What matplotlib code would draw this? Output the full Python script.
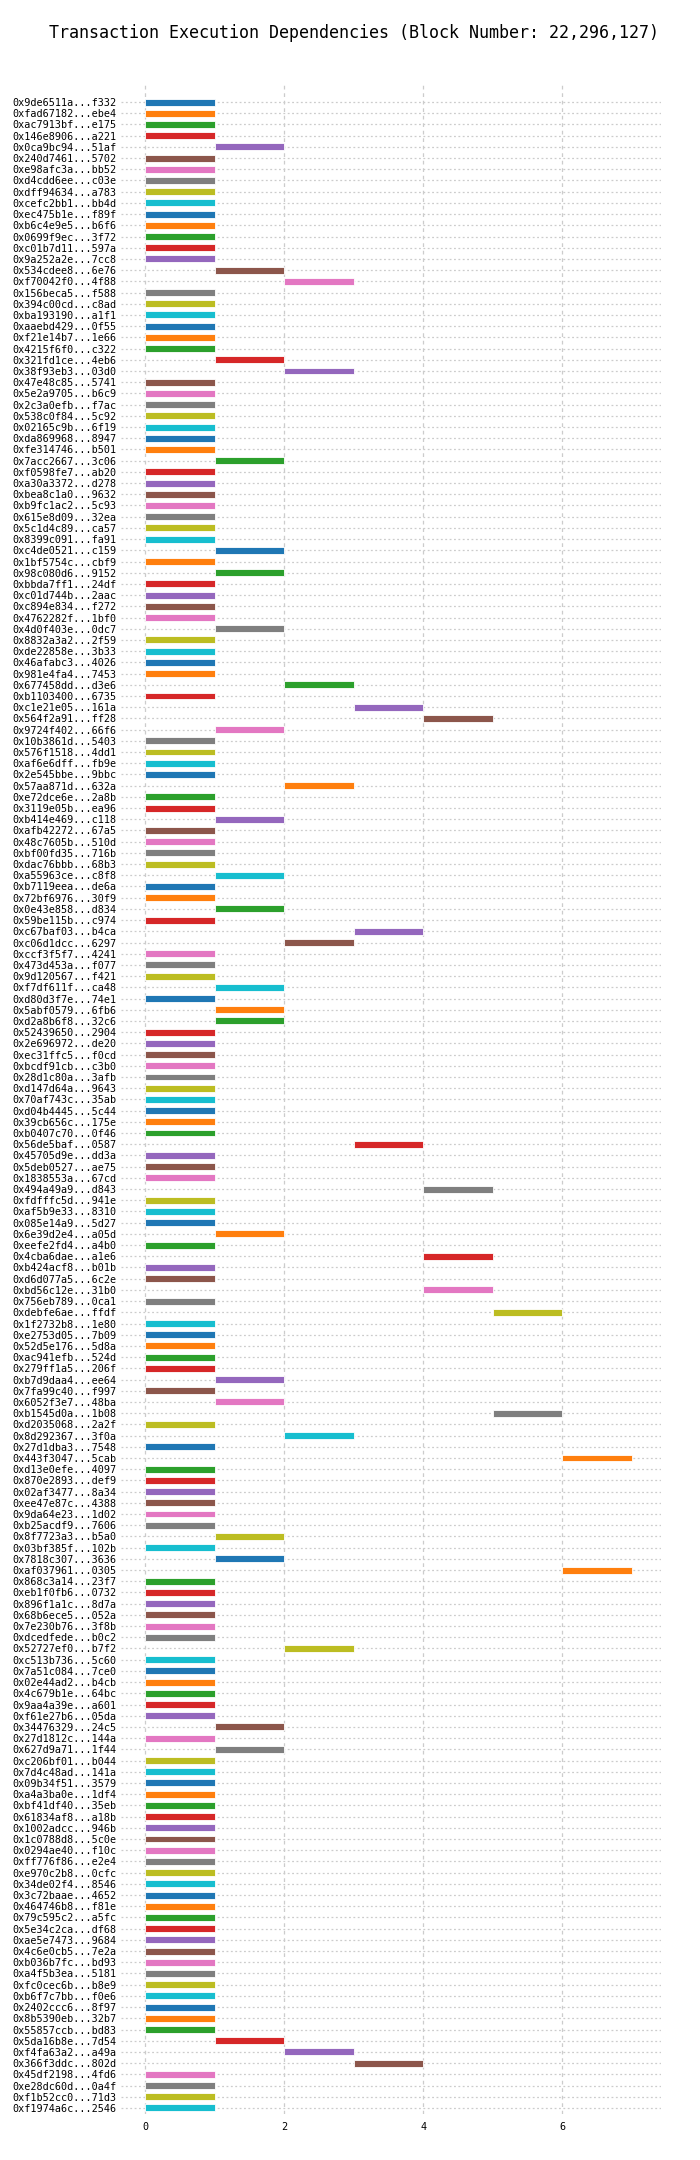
import matplotlib
matplotlib.use("Agg")
import matplotlib.pyplot as plt

tx_labels = [
    "0x9de6511a...f332", "0xfad67182...ebe4", "0xac7913bf...e175", "0x146e8906...a221", "0x0ca9bc94...51af",
    "0x240d7461...5702", "0xe98afc3a...bb52", "0xd4cdd6ee...c03e", "0xdff94634...a783", "0xcefc2bb1...bb4d",
    "0xec475b1e...f89f", "0xb6c4e9e5...b6f6", "0x0699f9ec...3f72", "0xc01b7d11...597a", "0x9a252a2e...7cc8",
    "0x534cdee8...6e76", "0xf70042f0...4f88", "0x156beca5...f588", "0x394c00cd...c8ad", "0xba193190...a1f1",
    "0xaaebd429...0f55", "0xf21e14b7...1e66", "0x4215f6f0...c322", "0x321fd1ce...4eb6", "0x38f93eb3...03d0",
    "0x47e48c85...5741", "0x5e2a9705...b6c9", "0x2c3a0efb...f7ac", "0x538c0f84...5c92", "0x02165c9b...6f19",
    "0xda869968...8947", "0xfe314746...b501", "0x7acc2667...3c06", "0xf0598fe7...ab20", "0xa30a3372...d278",
    "0xbea8c1a0...9632", "0xb9fc1ac2...5c93", "0x615e8d09...32ea", "0x5c1d4c89...ca57", "0x8399c091...fa91",
    "0xc4de0521...c159", "0x1bf5754c...cbf9", "0x98c080d6...9152", "0xbbda7ff1...24df", "0xc01d744b...2aac",
    "0xc894e834...f272", "0x4762282f...1bf0", "0x4d0f403e...0dc7", "0x8832a3a2...2f59", "0xde22858e...3b33",
    "0x46afabc3...4026", "0x981e4fa4...7453", "0x677458dd...d3e6", "0xb1103400...6735", "0xc1e21e05...161a",
    "0x564f2a91...ff28", "0x9724f402...66f6", "0x10b3861d...5403", "0x576f1518...4dd1", "0xaf6e6dff...fb9e",
    "0x2e545bbe...9bbc", "0x57aa871d...632a", "0xe72dce6e...2a8b", "0x3119e05b...ea96", "0xb414e469...c118",
    "0xafb42272...67a5", "0x48c7605b...510d", "0xbf00fd35...716b", "0xdac76bbb...68b3", "0xa55963ce...c8f8",
    "0xb7119eea...de6a", "0x72bf6976...30f9", "0x0e43e858...d834", "0x59be115b...c974", "0xc67baf03...b4ca",
    "0xc06d1dcc...6297", "0xccf3f5f7...4241", "0x473d453a...f077", "0x9d120567...f421", "0xf7df611f...ca48",
    "0xd80d3f7e...74e1", "0x5abf0579...6fb6", "0xd2a8b6f8...32c6", "0x52439650...2904", "0x2e696972...de20",
    "0xec31ffc5...f0cd", "0xbcdf91cb...c3b0", "0x28d1c80a...3afb", "0xd147d64a...9643", "0x70af743c...35ab",
    "0xd04b4445...5c44", "0x39cb656c...175e", "0xb0407c70...0f46", "0x56de5baf...0587", "0x45705d9e...dd3a",
    "0x5deb0527...ae75", "0x1838553a...67cd", "0x494a49a9...d843", "0xfdfffc5d...941e", "0xaf5b9e33...8310",
    "0x085e14a9...5d27", "0x6e39d2e4...a05d", "0xeefe2fd4...a4b0", "0x4cba6dae...a1e6", "0xb424acf8...b01b",
    "0xd6d077a5...6c2e", "0xbd56c12e...31b0", "0x756eb789...0ca1", "0xdebfe6ae...ffdf", "0x1f2732b8...1e80",
    "0xe2753d05...7b09", "0x52d5e176...5d8a", "0xac941efb...524d", "0x279ff1a5...206f", "0xb7d9daa4...ee64",
    "0x7fa99c40...f997", "0x6052f3e7...48ba", "0xb1545d0a...1b08", "0xd2035068...2a2f", "0x8d292367...3f0a",
    "0x27d1dba3...7548", "0x443f3047...5cab", "0xd13e0efe...4097", "0x870e2893...def9", "0x02af3477...8a34",
    "0xee47e87c...4388", "0x9da64e23...1d02", "0xb25acdf9...7606", "0x8f7723a3...b5a0", "0x03bf385f...102b",
    "0x7818c307...3636", "0xaf037961...0305", "0x868c3a14...23f7", "0xeb1f0fb6...0732", "0x896f1a1c...8d7a",
    "0x68b6ece5...052a", "0x7e230b76...3f8b", "0xdcedfede...b0c2", "0x52727ef0...b7f2", "0xc513b736...5c60",
    "0x7a51c084...7ce0", "0x02e44ad2...b4cb", "0x4c679b1e...64bc", "0x9aa4a39e...a601", "0xf61e27b6...05da",
    "0x34476329...24c5", "0x27d1812c...144a", "0x627d9a71...1f44", "0xc206bf01...b044", "0x7d4c48ad...141a",
    "0x09b34f51...3579", "0xa4a3ba0e...1df4", "0xbf41df40...35eb", "0x61834af8...a18b", "0x1002adcc...946b",
    "0x1c0788d8...5c0e", "0x0294ae40...f10c", "0xff776f86...e2e4", "0xe970c2b8...0cfc", "0x34de02f4...8546",
    "0x3c72baae...4652", "0x464746b8...f81e", "0x79c595c2...a5fc", "0x5e34c2ca...df68", "0xae5e7473...9684",
    "0x4c6e0cb5...7e2a", "0xb036b7fc...bd93", "0xa4f5b3ea...5181", "0xfc0cec6b...b8e9", "0xb6f7c7bb...f0e6",
    "0x2402ccc6...8f97", "0x8b5390eb...32b7", "0x55857ccb...bd83", "0x5da16b8e...7d54", "0xf4fa63a2...a49a",
    "0x366f3ddc...802d", "0x45df2198...4fd6", "0xe28dc60d...0a4f", "0xf1b52cc0...71d3", "0xf1974a6c...2546",
]

start_step = [
    0, 0, 0, 0, 1, 0, 0, 0, 0, 0, 0, 0, 0, 0, 0,
    1, 2, 0, 0, 0, 0, 0, 0, 1, 2, 0, 0, 0, 0, 0,
    0, 0, 1, 0, 0, 0, 0, 0, 0, 0, 1, 0, 1, 0, 0,
    0, 0, 1, 0, 0, 0, 0, 2, 0, 3, 4, 1, 0, 0, 0, 0,
    2, 0, 0, 1, 0, 0, 0, 0, 1, 0, 0, 1, 0, 3, 2,
    0, 0, 0, 1, 0, 1, 1, 0, 0, 0, 0, 0, 0, 0, 0,
    0, 0, 3, 0, 0, 0, 4, 0, 0, 0, 1, 0, 4, 0, 0, 4,
    0, 5, 0, 0, 0, 0, 0, 1, 0, 1, 5, 0, 2, 0, 6,
    0, 0, 0, 0, 0, 0, 1, 0, 1, 6, 0, 0, 0, 0, 0,
    0, 2, 0, 0, 0, 0, 0, 0, 1, 0, 1, 0, 0, 0, 0, 0,
    0, 0, 0, 0, 0, 0, 0, 0, 0, 0, 0, 0, 0, 0, 0,
    0, 0, 0, 0, 0, 1, 2, 3, 0, 0, 0, 0,
]

duration = [1] * len(tx_labels)
x_ticks = [0, 2, 4, 6]
title = "Transaction Execution Dependencies (Block Number: 22,296,127)"

palette = plt.get_cmap("tab10").colors
mono = "DejaVu Sans Mono"

W, H = 700, 2160
fig = plt.figure(figsize=(W / 100, H / 100), dpi=100)
ax_left, ax_right, ax_top, ax_bottom = 120.7, 661.0, 83.0, 2114.0
ax = fig.add_axes([ax_left / W, 1 - ax_bottom / H,
                   (ax_right - ax_left) / W, (ax_bottom - ax_top) / H])

n = len(tx_labels)
ypos = list(range(n))
colors = [palette[i % 10] for i in range(n)]
ax.barh(ypos, duration, left=start_step, height=0.62, color=colors,
        edgecolor="white", linewidth=0.6, zorder=3)

ax.set_yticks(ypos)
ax.set_yticklabels(tx_labels, fontfamily=mono, fontsize=7.3)
ax.set_xticks(x_ticks)
ax.set_xticklabels([str(t) for t in x_ticks], fontfamily=mono, fontsize=7.3)
ax.set_xlim(-0.35, 7.42)
ax.set_ylim(n - 1 + 0.54, -1.7)

ax.tick_params(axis="both", length=0, pad=3)
ax.tick_params(axis="x", pad=6)
for s in ax.spines.values():
    s.set_visible(False)
ax.grid(axis="y", linestyle=(0, (1.5, 2)), color="#cccccc", linewidth=0.9, zorder=0)
ax.grid(axis="x", linestyle=(0, (3, 3)), color="#cccccc", linewidth=0.9, zorder=0)

fig.text(354 / W, 1 - 33 / H, title, ha="center", va="center",
         fontfamily=mono, fontsize=12)

fig.savefig("out.png", dpi=100)
